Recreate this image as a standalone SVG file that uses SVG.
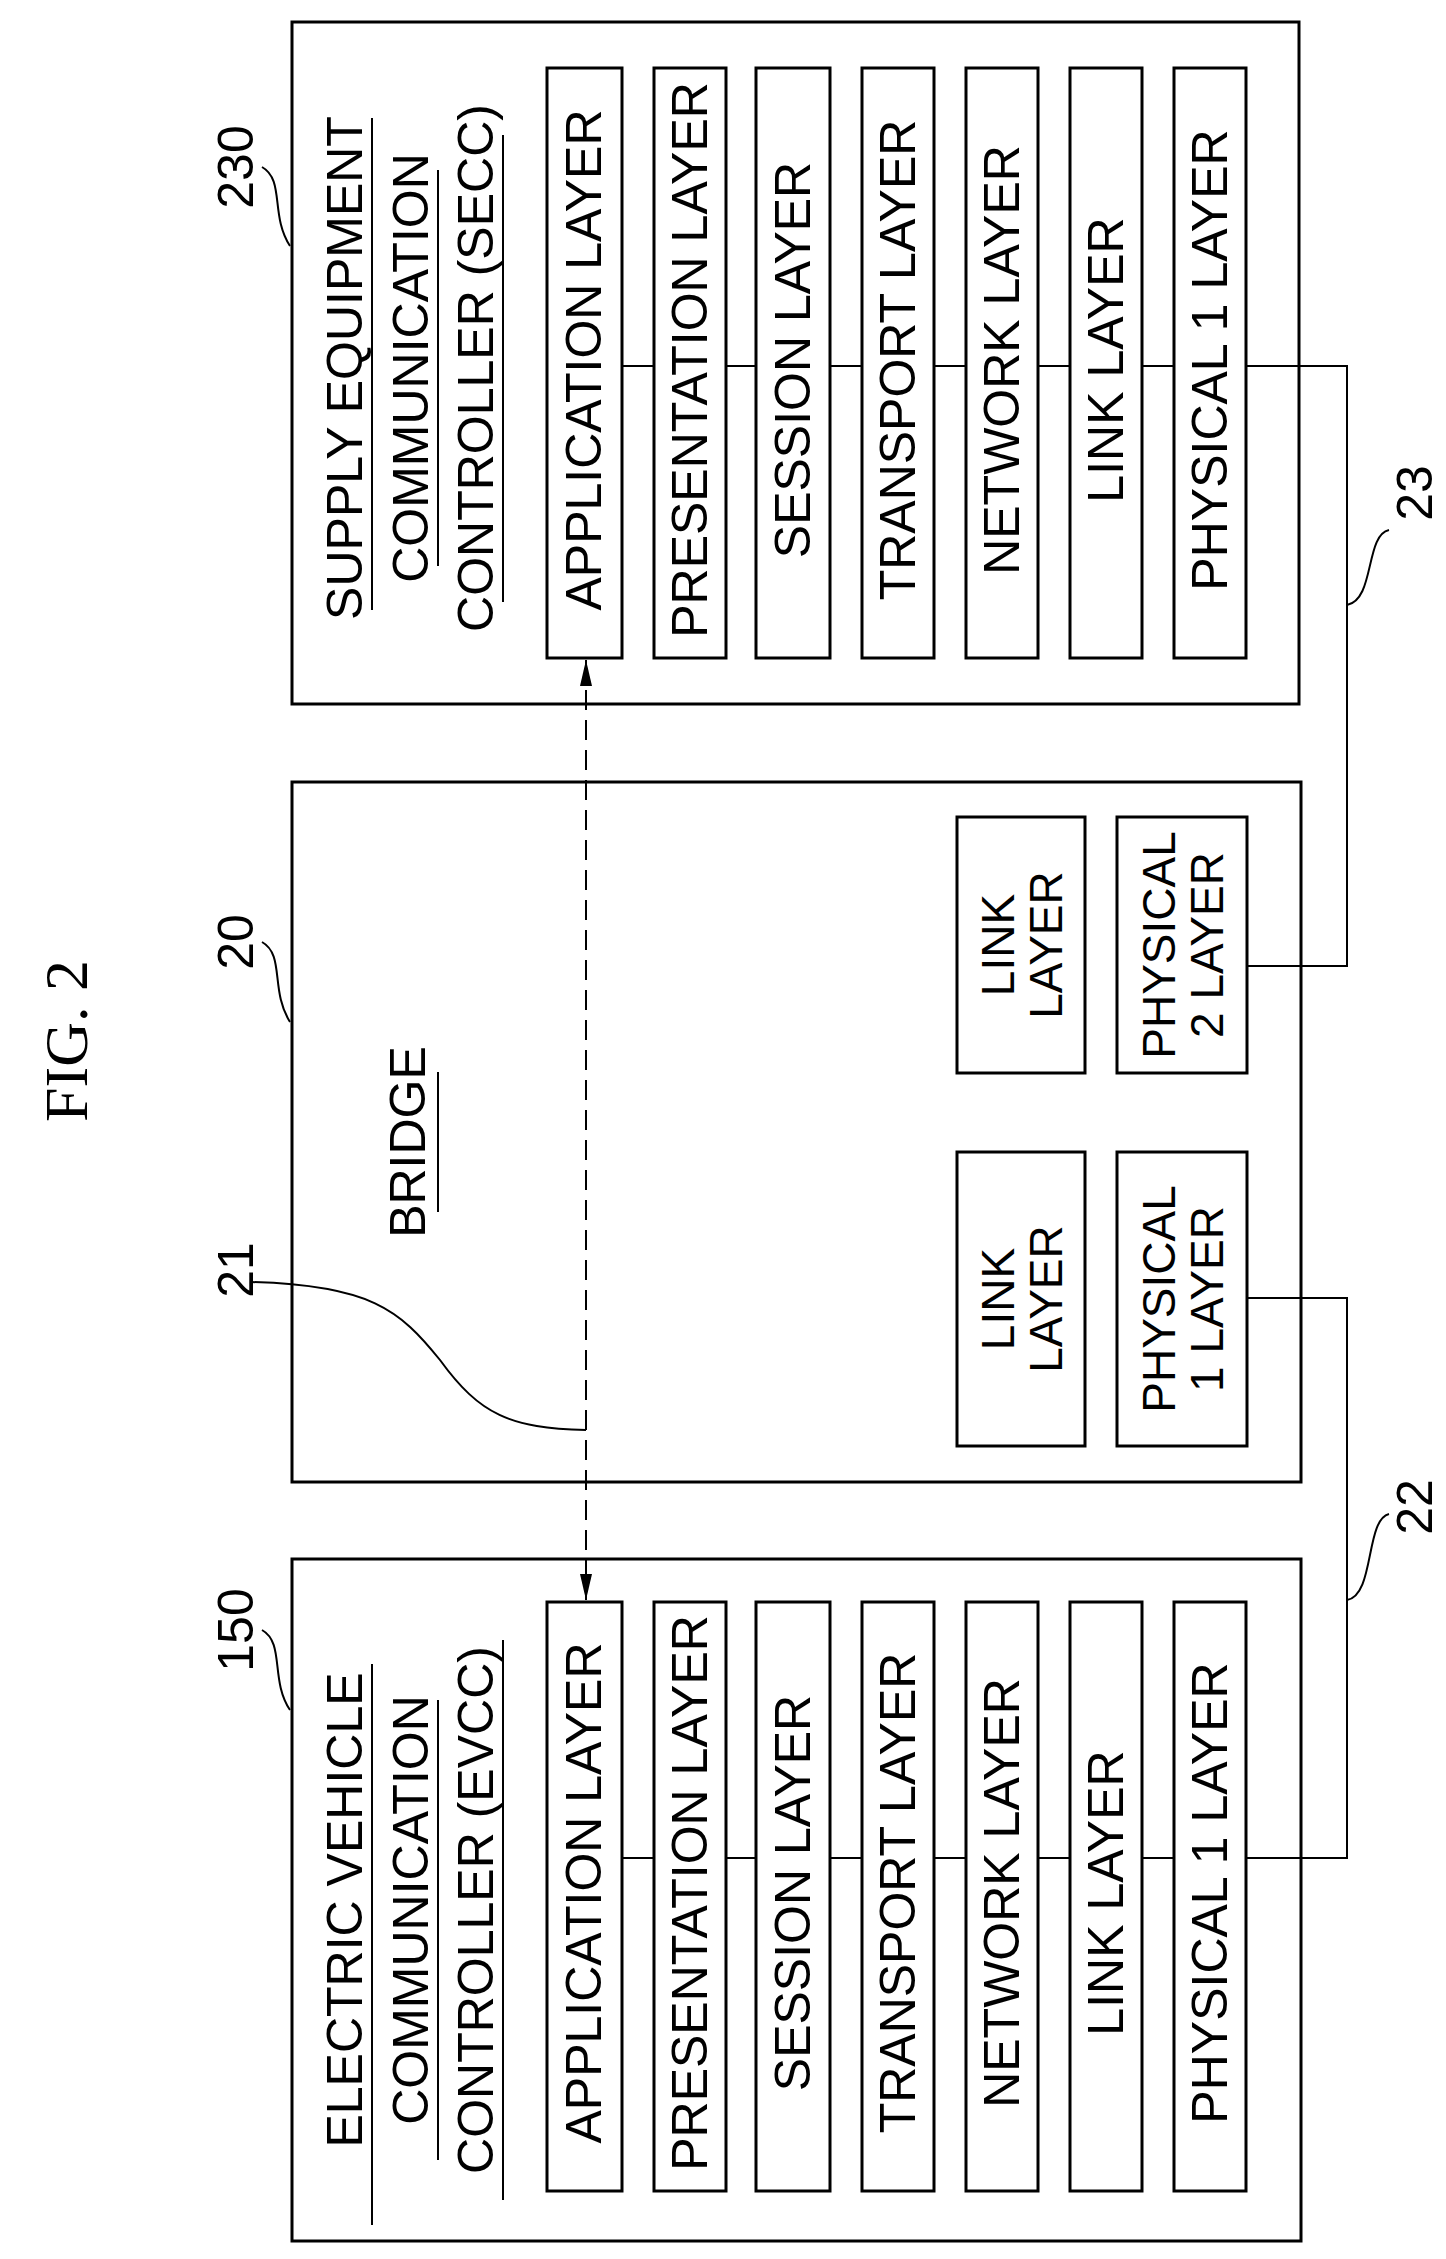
<svg xmlns="http://www.w3.org/2000/svg" width="1446" height="2259" viewBox="0 0 1446 2259">
<style>
.b{fill:none;stroke:#000;stroke-width:3}
.l{fill:none;stroke:#000;stroke-width:2}
text{font-family:"Liberation Sans",Arial,sans-serif;font-size:50px;fill:#000;text-anchor:middle;dominant-baseline:central}
.s{font-size:46px}
</style>
<defs><marker id="ah" markerWidth="26" markerHeight="12" refX="26" refY="6" orient="auto-start-reverse" markerUnits="userSpaceOnUse" viewBox="0 0 26 12"><path d="M0,0 L26,6 L0,12 Z"/></marker></defs>
<text transform="translate(66,1041) rotate(-90)" style="font-family:'Liberation Serif',serif;font-size:62px">FIG. 2</text>
<g id="secc">
<rect class="b" x="292" y="22" width="1007" height="682"/>
<text transform="translate(345,368) rotate(-90)">SUPPLY EQUIPMENT</text>
<text transform="translate(411,368) rotate(-90)">COMMUNICATION</text>
<text transform="translate(476,368) rotate(-90)">CONTROLLER (SECC)</text>
<path class="l" d="M372,118V610M438,170V566M503,135V602"/>
<rect class="b" x="547" y="68" width="75" height="590"/><text transform="translate(584,360) rotate(-90)">APPLICATION LAYER</text>
<rect class="b" x="654" y="68" width="72" height="590"/><text transform="translate(690,360) rotate(-90)">PRESENTATION LAYER</text>
<rect class="b" x="756" y="68" width="74" height="590"/><text transform="translate(793,360) rotate(-90)">SESSION LAYER</text>
<rect class="b" x="862" y="68" width="72" height="590"/><text transform="translate(898,360) rotate(-90)">TRANSPORT LAYER</text>
<rect class="b" x="966" y="68" width="72" height="590"/><text transform="translate(1002,360) rotate(-90)">NETWORK LAYER</text>
<rect class="b" x="1070" y="68" width="72" height="590"/><text transform="translate(1106,360) rotate(-90)">LINK LAYER</text>
<rect class="b" x="1174" y="68" width="72" height="590"/><text transform="translate(1210,360) rotate(-90)">PHYSICAL 1 LAYER</text>
</g>
<g id="bridge">
<rect class="b" x="292" y="782" width="1009" height="700"/>
<text transform="translate(408,1142) rotate(-90)">BRIDGE</text>
<path class="l" d="M438,1072V1212"/>
<rect class="b" x="957" y="817" width="128" height="256"/><text class="s" transform="translate(998,945) rotate(-90)">LINK</text><text class="s" transform="translate(1046,945) rotate(-90)">LAYER</text>
<rect class="b" x="1117" y="817" width="130" height="256"/><text class="s" transform="translate(1159,945) rotate(-90)">PHYSICAL</text><text class="s" transform="translate(1207,945) rotate(-90)">2 LAYER</text>
<rect class="b" x="957" y="1152" width="128" height="294"/><text class="s" transform="translate(998,1299) rotate(-90)">LINK</text><text class="s" transform="translate(1046,1299) rotate(-90)">LAYER</text>
<rect class="b" x="1117" y="1152" width="130" height="294"/><text class="s" transform="translate(1159,1299) rotate(-90)">PHYSICAL</text><text class="s" transform="translate(1207,1299) rotate(-90)">1 LAYER</text>
</g>
<g id="evcc">
<rect class="b" x="292" y="1559" width="1009" height="682"/>
<text transform="translate(345,1910) rotate(-90)">ELECTRIC VEHICLE</text>
<text transform="translate(411,1910) rotate(-90)">COMMUNICATION</text>
<text transform="translate(476,1910) rotate(-90)">CONTROLLER (EVCC)</text>
<path class="l" d="M372,1664V2225M438,1700V2160M503,1640V2200"/>
<rect class="b" x="547" y="1602" width="75" height="589"/><text transform="translate(584,1893) rotate(-90)">APPLICATION LAYER</text>
<rect class="b" x="654" y="1602" width="72" height="589"/><text transform="translate(690,1893) rotate(-90)">PRESENTATION LAYER</text>
<rect class="b" x="756" y="1602" width="74" height="589"/><text transform="translate(793,1893) rotate(-90)">SESSION LAYER</text>
<rect class="b" x="862" y="1602" width="72" height="589"/><text transform="translate(898,1893) rotate(-90)">TRANSPORT LAYER</text>
<rect class="b" x="966" y="1602" width="72" height="589"/><text transform="translate(1002,1893) rotate(-90)">NETWORK LAYER</text>
<rect class="b" x="1070" y="1602" width="72" height="589"/><text transform="translate(1106,1893) rotate(-90)">LINK LAYER</text>
<rect class="b" x="1174" y="1602" width="72" height="589"/><text transform="translate(1210,1893) rotate(-90)">PHYSICAL 1 LAYER</text>
</g>
<g id="labels">
<text transform="translate(236,167) rotate(-90)">230</text>
<text transform="translate(236,942) rotate(-90)">20</text>
<text transform="translate(236,1270) rotate(-90)">21</text>
<text transform="translate(236,1630) rotate(-90)">150</text>
<text transform="translate(1415,493) rotate(-90)">23</text>
<text transform="translate(1415,1507) rotate(-90)">22</text>
</g>
<g id="connectors">
<path class="l" d="M622,366H654M726,366H756M830,366H862M934,366H966M1038,366H1070M1142,366H1174M1246,366H1347V966H1247"/>
<path class="l" d="M622,1858H654M726,1858H756M830,1858H862M934,1858H966M1038,1858H1070M1142,1858H1174M1246,1858H1347V1298H1247"/>
<path class="l" d="M262,167C285,180 270,215 290,246M262,942C285,955 270,990 290,1022M262,1630C285,1643 270,1680 290,1710"/>
<path class="l" d="M1389,530C1365,535 1375,600 1347,605M1389,1514C1365,1520 1375,1595 1347,1600"/>
<path class="l" d="M250,1282C370,1285 400,1310 440,1360C480,1415 510,1428 586,1430"/>
<path class="l" stroke-dasharray="20,10" d="M586,660V1600" marker-start="url(#ah)" marker-end="url(#ah)"/>
</g>
</svg>
